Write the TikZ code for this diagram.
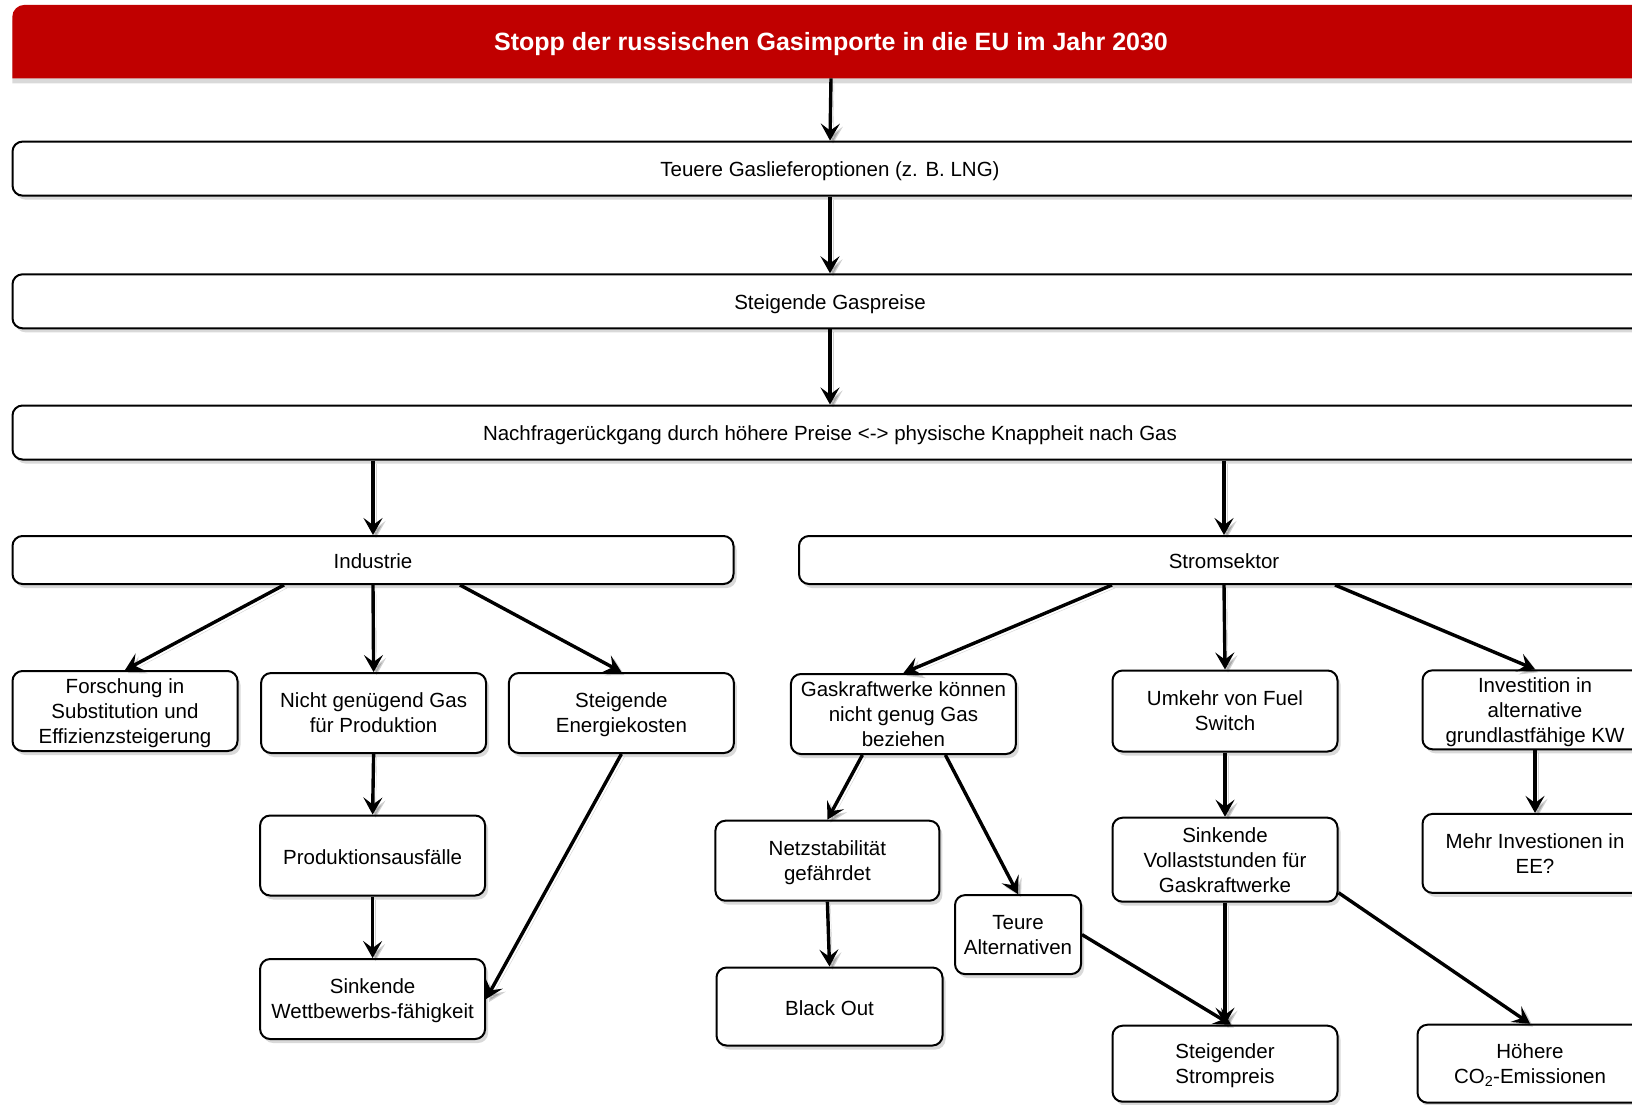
\documentclass[tikz,border=0pt]{standalone}
\usepackage{fontspec}
\setmainfont{Liberation Sans}
\usetikzlibrary{arrows.meta, shadows, backgrounds}
\definecolor{headred}{HTML}{C00000}
\tikzset{
  top strut/.initial=1.0em,
  flow box/.style={
    draw=black,
    line width=2pt,
    rounded corners=10pt,
    fill=white,
    align=center,
    inner sep=0pt,
    font=\fontsize{20.5}{25}\selectfont,
    execute at begin node={\rule{0pt}{\pgfkeysvalueof{/tikz/top strut}}},
    execute at end node={\rule[-0.212em]{0pt}{0.212em}},
    drop shadow={shadow xshift=3pt, shadow yshift=-4pt, opacity=0.3}
  },
  wide box/.style={
    flow box,
    minimum width=1635pt,
    minimum height=54pt
  },
  sector box/.style={
    flow box,
    minimum height=48pt
  },
  single box/.style={
    flow box,
    top strut=1.05em,
    minimum width=225pt,
    minimum height=80pt
  },
  cause box/.style={
    flow box,
    text depth=-5.5pt,
    minimum width=225pt,
    minimum height=80pt
  },
  head box/.style={
    rectangle,
    text=white,
    inner sep=0pt,
    minimum width=1637pt,
    minimum height=73pt,
    font=\fontsize{25}{29}\selectfont\bfseries,
    execute at begin node={\rule{0pt}{0.905em}},
    execute at end node={\rule[-0.212em]{0pt}{0.212em}}
  },
  link/.style={
    -{Stealth[length=17pt, width=19pt, inset=7pt]},
    line width=3.4pt,
    preaction={draw=black, opacity=0.18, transform canvas={shift={(3pt,-3pt)}}}
  }
}

\begin{document}
\begin{tikzpicture}[x=1pt, y=-1pt]
    % 1 Einheit = 1 Pixel der Vorlage
    \useasboundingbox (0,0) rectangle (1632,1104);
    \clip (0,0) rectangle (1632,1104);

    % Kopf und breite Stufen
    \node[head box] (stop) at (831, 41.6) {Stopp der russischen Gasimporte in die EU im Jahr 2030};
    \begin{scope}[on background layer]
      \fill[headred, drop shadow={shadow xshift=0pt, shadow yshift=-5pt, opacity=0.3}]
        (stop.south west) [rounded corners=12pt] -- (stop.north west) -- (stop.north east) [sharp corners] -- (stop.south east) -- cycle;
    \end{scope}
    \node[wide box] (lng) at (830, 168.6) {Teuere Gaslieferoptionen (z. B. LNG)};
    \node[wide box] (preise) at (830, 301.3) {Steigende Gaspreise};
    \node[wide box] (nachfrage) at (830, 432.5) {Nachfragerückgang durch höhere Preise <-> physische Knappheit nach Gas};

    % Sektoren
    \node[sector box, minimum width=721pt] (ind) at (373, 560) {Industrie};
    \node[sector box, minimum width=850pt] (strom) at (1224, 560) {Stromsektor};

    % Industrie
    \node[cause box] (forsch) at (125, 711) {Forschung in\\Substitution und\\Effizienzsteigerung};
    \node[cause box] (mangel) at (373.6, 713) {Nicht genügend Gas\\für Produktion};
    \node[cause box] (energie) at (621.4, 713) {Steigende\\Energiekosten};
    \node[single box] (ausfall) at (372.6, 855.5) {Produktionsausfälle};
    \node[cause box] (wettbew) at (372.6, 999) {Sinkende\\Wettbewerbs-fähigkeit};

    % Stromsektor
    \node[cause box] (gaskw) at (903.4, 714) {Gaskraftwerke können\\nicht genug Gas\\beziehen};
    \node[cause box, minimum width=224pt] (netz) at (827.4, 860.7) {Netzstabilität\\gefährdet};
    \node[single box, minimum width=226pt, minimum height=78pt] (blackout) at (829.5, 1006.5) {Black Out};
    \node[cause box, minimum width=126pt, minimum height=79pt] (teuer) at (1018, 934.6) {Teure\\Alternativen};
    \node[cause box, minimum height=81pt] (umkehr) at (1225, 711) {Umkehr von Fuel\\Switch};
    \node[cause box, minimum height=84pt] (vollast) at (1225, 859.7) {Sinkende\\Vollaststunden für\\Gaskraftwerke};
    \node[cause box, minimum height=76pt] (strompr) at (1225, 1063.7) {Steigender\\Strompreis};
    \node[cause box, minimum height=79pt] (invest) at (1535, 709.8) {Investition in\\alternative\\grundlastfähige KW};
    \node[cause box, minimum height=79pt] (ee) at (1535, 853.4) {Mehr Investionen in\\EE?};
    \node[cause box, minimum height=78pt] (co2) at (1530, 1063.7) {Höhere\\CO\textsubscript{2}-Emissionen};

    % Verbindungen oben
    \draw[link] (stop.south) -- (lng.north);
    \draw[link] (lng.south) -- (preise.north);
    \draw[link] (preise.south) -- (nachfrage.north);
    \draw[link] (nachfrage.south -| ind.north) -- (ind.north);
    \draw[link] (nachfrage.south -| strom.north) -- (strom.north);

    % Verbindungen Industrie
    \draw[link] ([xshift=-89pt]ind.south) -- (forsch.north);
    \draw[link] (ind.south) -- (mangel.north);
    \draw[link] ([xshift=87pt]ind.south) -- (energie.north);
    \draw[link] (mangel.south) -- (ausfall.north);
    \draw[link] (ausfall.south) -- (wettbew.north);
    \draw[link] (energie.south) -- (wettbew.east);

    % Verbindungen Stromsektor
    \draw[link] ([xshift=-112pt]strom.south) -- (gaskw.north);
    \draw[link] (strom.south) -- (umkehr.north);
    \draw[link] ([xshift=111pt]strom.south) -- (invest.north);
    \draw[link] ([xshift=-41pt]gaskw.south) -- (netz.north);
    \draw[link] ([xshift=42pt]gaskw.south) -- (teuer.north);
    \draw[link] (netz.south) -- (blackout.north);
    \draw[link] (teuer.east) -- ([xshift=6pt]strompr.north);
    \draw[link] (umkehr.south) -- (vollast.north);
    \draw[link] (vollast.south) -- (strompr.north);
    \draw[link] ([yshift=10pt]vollast.south east) -- (co2.north);
    \draw[link] (invest.south) -- (ee.north);

  \end{tikzpicture}
\end{document}
